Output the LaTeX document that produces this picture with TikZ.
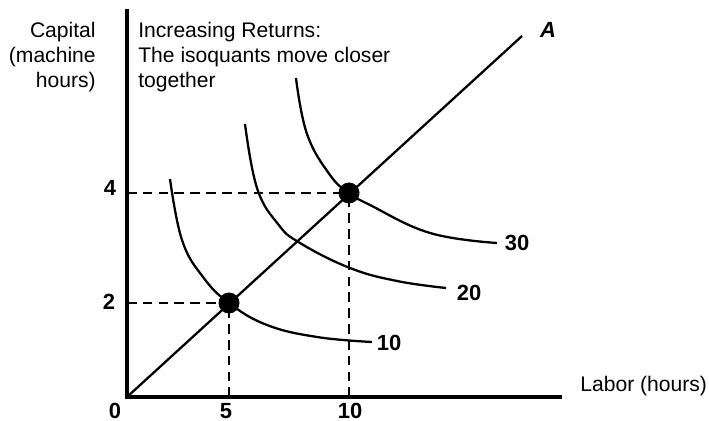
\documentclass[tikz,border=0pt]{standalone}
\usepackage{fontspec}
\setmainfont{Liberation Sans}

\begin{document}
\begin{tikzpicture}[x=0.02cm,y=-0.02cm,
    iso/.style={line width=1.3pt},
    guide/.style={line width=1.2pt, dash pattern=on 5.5pt off 3.5pt},
    dot/.style={circle, fill, inner sep=0pt, minimum size=0.42cm},
    num/.style={font=\fontsize{12.5}{14}\selectfont\bfseries, inner sep=0pt},
    txt/.style={font=\fontsize{12}{14.2}\selectfont, inner sep=0pt}]
  \useasboundingbox (0,0) rectangle (709,421);
  \coordinate (O) at (127,397);
  \coordinate (yend) at (127,9);
  \coordinate (xend) at (562,397);
  \coordinate (rayA) at (522,36);
  \coordinate (q5) at (229,303);
  \coordinate (q10) at (349,193);
  % guide lines
  \draw[guide] (O |- q5) -- (q5);
  \draw[guide] (q5 |- O) -- (q5);
  \draw[guide] (O |- q10) -- (q10);
  \draw[guide] (q10 |- O) -- (q10);
  % isoquants
  \draw[iso] plot[smooth, tension=0.7] coordinates {(170,179) (182,240) (203,277) (229,303) (267,325) (317,337) (372,342)};
  \draw[iso] plot[smooth, tension=0.7] coordinates {(245,124) (257,188) (278,224) (300,243) (350,268) (397,281) (446,288)};
  \draw[iso] plot[smooth, tension=0.7] coordinates {(296,78) (307,134) (330,175) (349,193) (370,205) (430,233) (497,243)};
  % ray and axes
  \draw[iso] (O) -- (rayA);
  \draw[line width=2.7pt] (yend) -- (O) -- (xend);
  \node[dot] (p5) at (q5) {};
  \node[dot] (p10) at (q10) {};
  % labels
  \node[num, font=\fontsize{12.5}{14}\selectfont\bfseries\itshape] (lblA) at (548,30) {A};
  \node[num] (lbl10) at (389,343) {10};
  \node[num] (lbl20) at (469,293) {20};
  \node[num] (lbl30) at (517,243) {30};
  \node[num] (k4) at (110,188) {4};
  \node[num] (k2) at (109,302) {2};
  \node[num] (l0) at (115,411) {0};
  \node[num] (l5) at (226,411) {5};
  \node[num] (l10) at (350,411) {10};
  \node[txt, align=right, anchor=north east] (ylab) at (96,22) {Capital\\(machine\\hours)};
  \node[txt, align=left, anchor=north west] (note) at (138,22) {Increasing Returns:\\The isoquants move closer\\together};
  \node[txt, anchor=base west] (xlab) at (580,392) {Labor (hours)};
\end{tikzpicture}
\end{document}
